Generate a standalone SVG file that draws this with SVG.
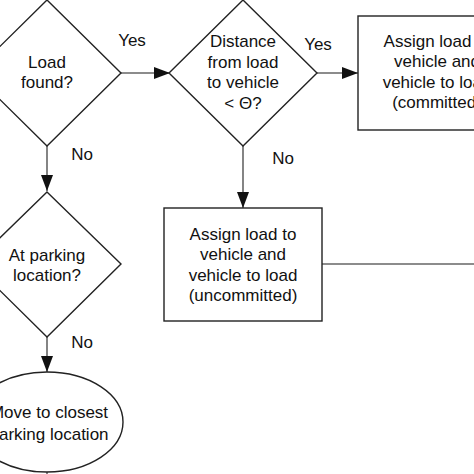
<svg xmlns="http://www.w3.org/2000/svg" width="474" height="474" viewBox="0 0 474 474">
<defs>
<style>
.shape{fill:#fff;stroke:#222;stroke-width:1.4}
.conn{fill:none;stroke:#666;stroke-width:1.6}
text{font-family:"Liberation Sans",Arial,sans-serif;font-size:17px;fill:#111;text-anchor:middle}
</style>
<marker id="ah" viewBox="0 0 16 12" refX="16" refY="6" markerWidth="16" markerHeight="12" markerUnits="userSpaceOnUse" orient="auto">
<path d="M0,0 L16,6 L0,12 Z" fill="#111"/>
</marker>
</defs>
<rect width="474" height="474" fill="#fff"/>
<g id="connectors">
<line class="conn" x1="121" y1="73" x2="170" y2="73" marker-end="url(#ah)"/>
<line class="conn" x1="317" y1="73" x2="358" y2="73" marker-end="url(#ah)"/>
<line class="conn" x1="47" y1="146" x2="47" y2="191" marker-end="url(#ah)"/>
<line class="conn" x1="243" y1="146" x2="243" y2="208" marker-end="url(#ah)"/>
<line class="conn" x1="47" y1="337" x2="47" y2="372" marker-end="url(#ah)"/>
<line class="conn" x1="322" y1="264" x2="474" y2="264"/>
<line class="conn" x1="47" y1="472" x2="47" y2="474" stroke-width="8"/>
</g>
<g id="labels">
<text x="132" y="46">Yes</text>
<text x="318" y="50">Yes</text>
<text x="82" y="160">No</text>
<text x="283" y="164">No</text>
<text x="82" y="348">No</text>
</g>
<g id="load-found">
<polygon class="shape" points="47,0 121,73 47,146 -27,73"/>
<text x="47" y="68">Load</text>
<text x="47" y="88">found?</text>
</g>
<g id="distance">
<polygon class="shape" points="243,0 317,73 243,146 169,73"/>
<text x="243" y="47">Distance</text>
<text x="243" y="68">from load</text>
<text x="243" y="88">to vehicle</text>
<text x="243" y="109">&lt; Θ?</text>
</g>
<g id="assign-committed">
<rect class="shape" x="358" y="16" width="158" height="114"/>
<text x="437" y="47">Assign load to</text>
<text x="437" y="67">vehicle and</text>
<text x="437" y="88">vehicle to load</text>
<text x="437" y="108">(committed)</text>
</g>
<g id="assign-uncommitted">
<rect class="shape" x="164" y="208" width="158" height="113"/>
<text x="243" y="240">Assign load to</text>
<text x="243" y="260">vehicle and</text>
<text x="243" y="281">vehicle to load</text>
<text x="243" y="301">(uncommitted)</text>
</g>
<g id="at-parking">
<polygon class="shape" points="47,192 121,264 47,337 -27,264"/>
<text x="47" y="261">At parking</text>
<text x="47" y="281">location?</text>
</g>
<g id="move-parking">
<ellipse class="shape" cx="47" cy="422" rx="76" ry="50"/>
<text x="49" y="418">Move to closest</text>
<text x="49" y="440">parking location</text>
</g>
</svg>
